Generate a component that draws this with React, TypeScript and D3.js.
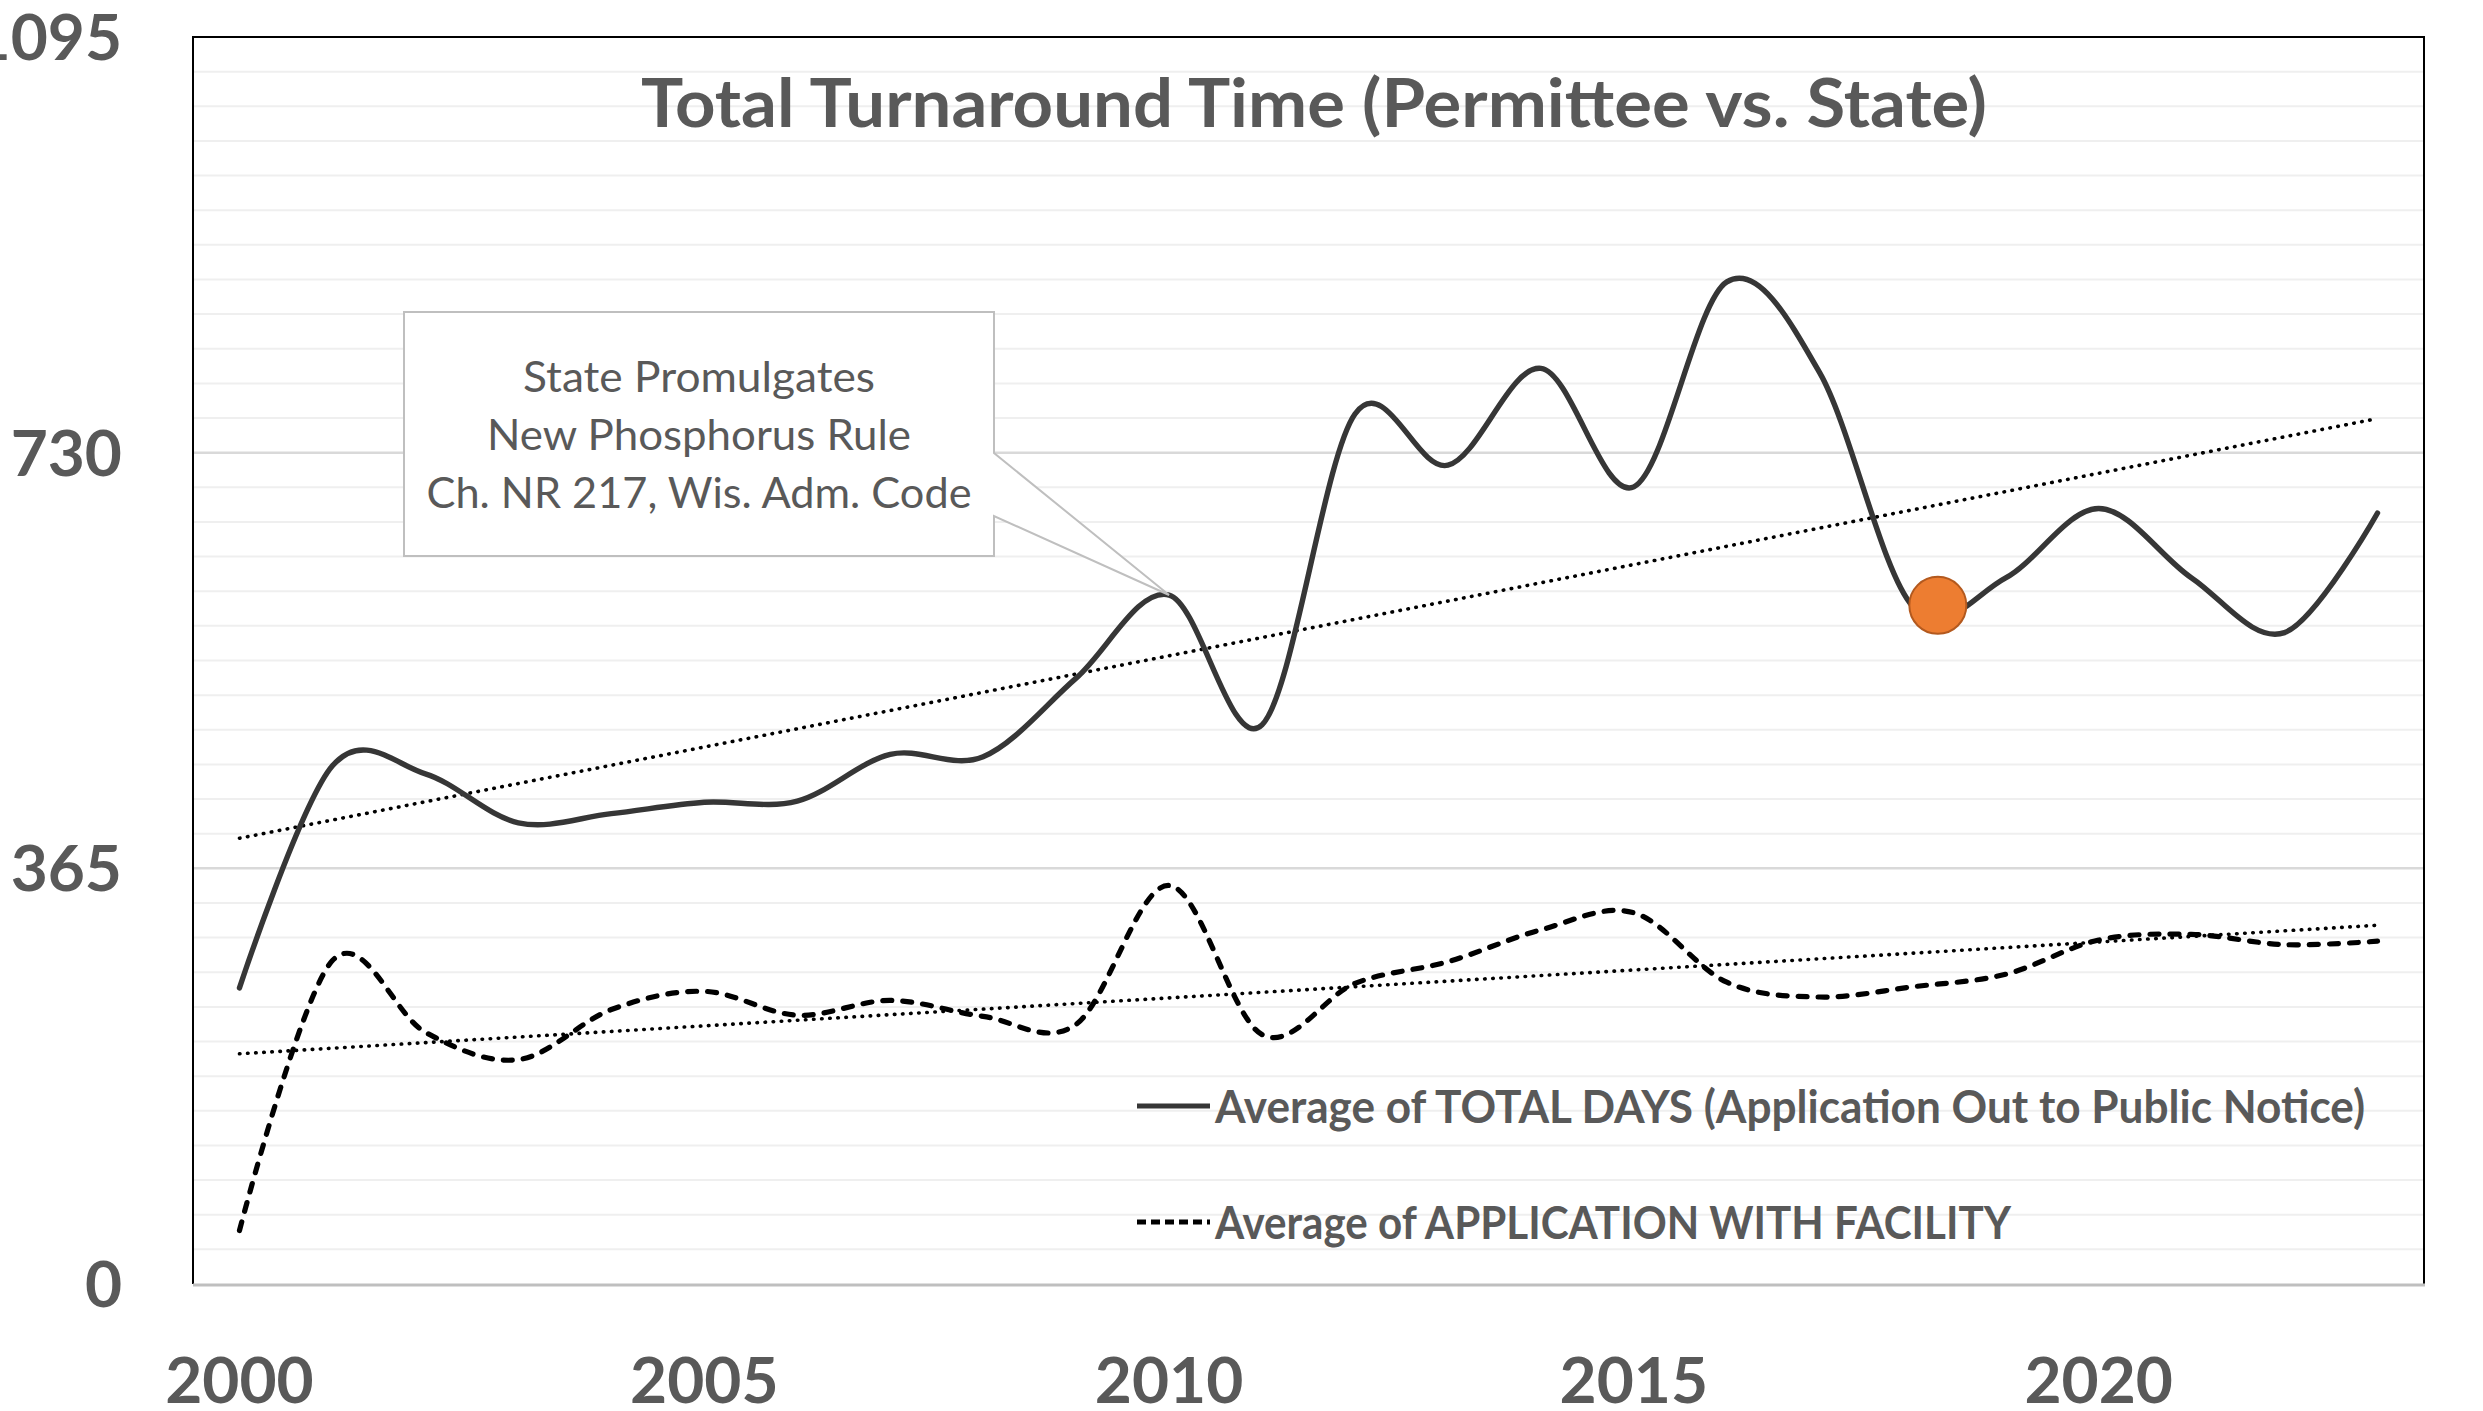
import { useEffect, useRef } from "react";
import * as d3 from "d3";

// ---- data ----
const years = [
  2000, 2001, 2002, 2003, 2004, 2005, 2006, 2007, 2008, 2009, 2010, 2011,
  2012, 2013, 2014, 2015, 2016, 2017, 2018, 2019, 2020, 2021, 2022, 2023,
];
// Average of TOTAL DAYS (Application Out to Public Notice)
const totalDays = [
  260, 455, 448, 405, 413, 423, 424, 465, 463, 532, 605, 491,
  764, 719, 804, 700, 880, 800, 595, 620, 681, 620, 572, 677,
];
// Average of APPLICATION WITH FACILITY
const withFacility = [
  47, 284, 221, 197, 241, 257, 236, 249, 235, 228, 350, 219,
  264, 283, 311, 326, 265, 252, 261, 272, 302, 307, 298, 301,
];
const yTicks = [0, 365, 730, 1095];
const xTicks = [2000, 2005, 2010, 2015, 2020];
const calloutLines = ["State Promulgates", "New Phosphorus Rule", "Ch. NR 217, Wis. Adm. Code"];
const calloutWidths = [352, 424, 545];
const calloutYear = 2010;
const highlight = { year: 2018.27, value: 596 };
const legendLabels = [
  "Average of TOTAL DAYS (Application Out to Public Notice)",
  "Average of APPLICATION WITH FACILITY",
];
const legendWidths = [1150, 796];
const title = "Total Turnaround Time (Permittee vs. State)";

const W = 2483;
const H = 1411;
const FONT = "Lato, 'Open Sans', sans-serif";
const GREY = "#595959";

// least squares fit, like Excel's linear trendline
function linearFit(xs: number[], ys: number[]) {
  const mx = d3.mean(xs) as number;
  const my = d3.mean(ys) as number;
  let sxy = 0;
  let sxx = 0;
  xs.forEach((xv, i) => {
    sxy += (xv - mx) * (ys[i] - my);
    sxx += (xv - mx) * (xv - mx);
  });
  const slope = sxy / sxx;
  return (xv: number) => my + slope * (xv - mx);
}

const App = () => {
  const svgRef = useRef<SVGSVGElement>(null);

  useEffect(() => {
    document.body.style.margin = "0";
    if (!svgRef.current) return;
    const svg = d3.select(svgRef.current);
    svg.selectAll("*").remove();

    const plot = { left: 193, right: 2424, top: 37, bottom: 1284 };

    const x = d3
      .scaleLinear()
      .domain([1999.5, 2023.5])
      .range([plot.left, plot.right]);
    const y = d3.scaleLinear().domain([0, 1095]).range([plot.bottom, plot.top]);

    svg.append("rect").attr("width", W).attr("height", H).attr("fill", "#ffffff");

    // minor + major gridlines
    const minorTicks = d3.range(1, 36).map((i) => (i * 365) / 12);
    svg
      .selectAll(".minor")
      .data(minorTicks.filter((_, i) => (i + 1) % 12 !== 0))
      .enter()
      .append("line")
      .attr("x1", plot.left)
      .attr("x2", plot.right)
      .attr("y1", (d) => y(d))
      .attr("y2", (d) => y(d))
      .attr("stroke", "#efefef")
      .attr("stroke-width", 2);

    svg
      .selectAll(".major")
      .data([365, 730])
      .enter()
      .append("line")
      .attr("x1", plot.left)
      .attr("x2", plot.right)
      .attr("y1", (d) => y(d))
      .attr("y2", (d) => y(d))
      .attr("stroke", "#d9d9d9")
      .attr("stroke-width", 2.5);

    // frame
    svg
      .append("path")
      .attr("d", `M${plot.left},${plot.bottom}V${plot.top}H${plot.right}V${plot.bottom}`)
      .attr("fill", "none")
      .attr("stroke", "#000000")
      .attr("stroke-width", 2);
    svg
      .append("line")
      .attr("x1", plot.left)
      .attr("x2", plot.right + 1)
      .attr("y1", plot.bottom + 1)
      .attr("y2", plot.bottom + 1)
      .attr("stroke", "#bfbfbf")
      .attr("stroke-width", 3);

    // axis labels
    svg
      .selectAll(".ylab")
      .data(yTicks)
      .enter()
      .append("text")
      .attr("x", 122)
      .attr("y", (d) => y(d))
      .attr("dy", "0.36em")
      .attr("text-anchor", "end")
      .attr("font-family", FONT)
      .attr("font-weight", 700)
      .attr("font-size", 64)
      .attr("fill", GREY)
      .text((d) => d);

    svg
      .selectAll(".xlab")
      .data(xTicks)
      .enter()
      .append("text")
      .attr("x", (d) => x(d))
      .attr("y", 1403)
      .attr("text-anchor", "middle")
      .attr("font-family", FONT)
      .attr("font-weight", 700)
      .attr("font-size", 64)
      .attr("fill", GREY)
      .text((d) => d);

    // title
    svg
      .append("text")
      .attr("x", 641)
      .attr("y", 127)
      .attr("font-family", FONT)
      .attr("font-weight", 700)
      .attr("font-size", 66)
      .attr("fill", GREY)
      .attr("textLength", 1346)
      .attr("lengthAdjust", "spacingAndGlyphs")
      .text(title);

    // trendlines (dotted)
    const trendSeries = [totalDays, withFacility];
    trendSeries.forEach((vals) => {
      const fit = linearFit(years, vals);
      const x0 = years[0];
      const x1 = years[years.length - 1];
      svg
        .append("line")
        .attr("x1", x(x0))
        .attr("y1", y(fit(x0)))
        .attr("x2", x(x1))
        .attr("y2", y(fit(x1)))
        .attr("stroke", "#000000")
        .attr("stroke-width", 3.6)
        .attr("stroke-linecap", "round")
        .attr("stroke-dasharray", "0.5,7.6");
    });

    const line = d3
      .line<number>()
      .x((_, i) => x(years[i]))
      .y((d) => y(d))
      .curve(d3.curveCatmullRom.alpha(0));

    svg
      .append("path")
      .attr("d", line(withFacility))
      .attr("fill", "none")
      .attr("stroke", "#000000")
      .attr("stroke-width", 5.2)
      .attr("stroke-linecap", "round")
      .attr("stroke-dasharray", "9,11");

    svg
      .append("path")
      .attr("d", line(totalDays))
      .attr("fill", "none")
      .attr("stroke", "#363636")
      .attr("stroke-width", 5.4)
      .attr("stroke-linecap", "round")
      .attr("stroke-linejoin", "round");

    // callout box with wedge pointing at the 2010 peak
    const box = { x0: 404, x1: 994, y0: 312, y1: 556, w0: 453, w1: 516 };
    const ci = years.indexOf(calloutYear);
    const tip = [x(calloutYear), y(totalDays[ci])];
    svg
      .append("path")
      .attr(
        "d",
        `M${box.x0},${box.y0}H${box.x1}V${box.w0}L${tip[0]},${tip[1]}L${box.x1},${box.w1}V${box.y1}H${box.x0}Z`
      )
      .attr("fill", "#ffffff")
      .attr("stroke", "#bfbfbf")
      .attr("stroke-width", 2);

    const cx = (box.x0 + box.x1) / 2;
    calloutLines.forEach((t, i) => {
      svg
        .append("text")
        .attr("x", cx - calloutWidths[i] / 2)
        .attr("y", 392 + i * 58)
        .attr("font-family", FONT)
        .attr("font-size", 42)
        .attr("fill", GREY)
        .attr("textLength", calloutWidths[i])
        .attr("lengthAdjust", "spacingAndGlyphs")
        .text(t);
    });

    // highlighted point
    svg
      .append("circle")
      .attr("cx", x(highlight.year))
      .attr("cy", y(highlight.value))
      .attr("r", 28.5)
      .attr("fill", "#ED7D31")
      .attr("stroke", "#B3591E")
      .attr("stroke-width", 2);

    // legend
    const legendY = [1106, 1222];
    const legendDash = [null, "9,5"];
    legendLabels.forEach((label, i) => {
      svg
        .append("line")
        .attr("x1", 1137)
        .attr("x2", 1210)
        .attr("y1", legendY[i])
        .attr("y2", legendY[i])
        .attr("stroke", i === 0 ? "#363636" : "#000000")
        .attr("stroke-width", 5)
        .attr("stroke-dasharray", legendDash[i]);
      svg
        .append("text")
        .attr("x", 1215)
        .attr("y", legendY[i] + 17)
        .attr("font-family", FONT)
        .attr("font-weight", 700)
        .attr("font-size", 46)
        .attr("fill", GREY)
        .attr("textLength", legendWidths[i])
        .attr("lengthAdjust", "spacingAndGlyphs")
        .text(label);
    });
  }, []);

  return <svg ref={svgRef} width={W} height={H} style={{ display: "block" }} />;
};

export default App;
